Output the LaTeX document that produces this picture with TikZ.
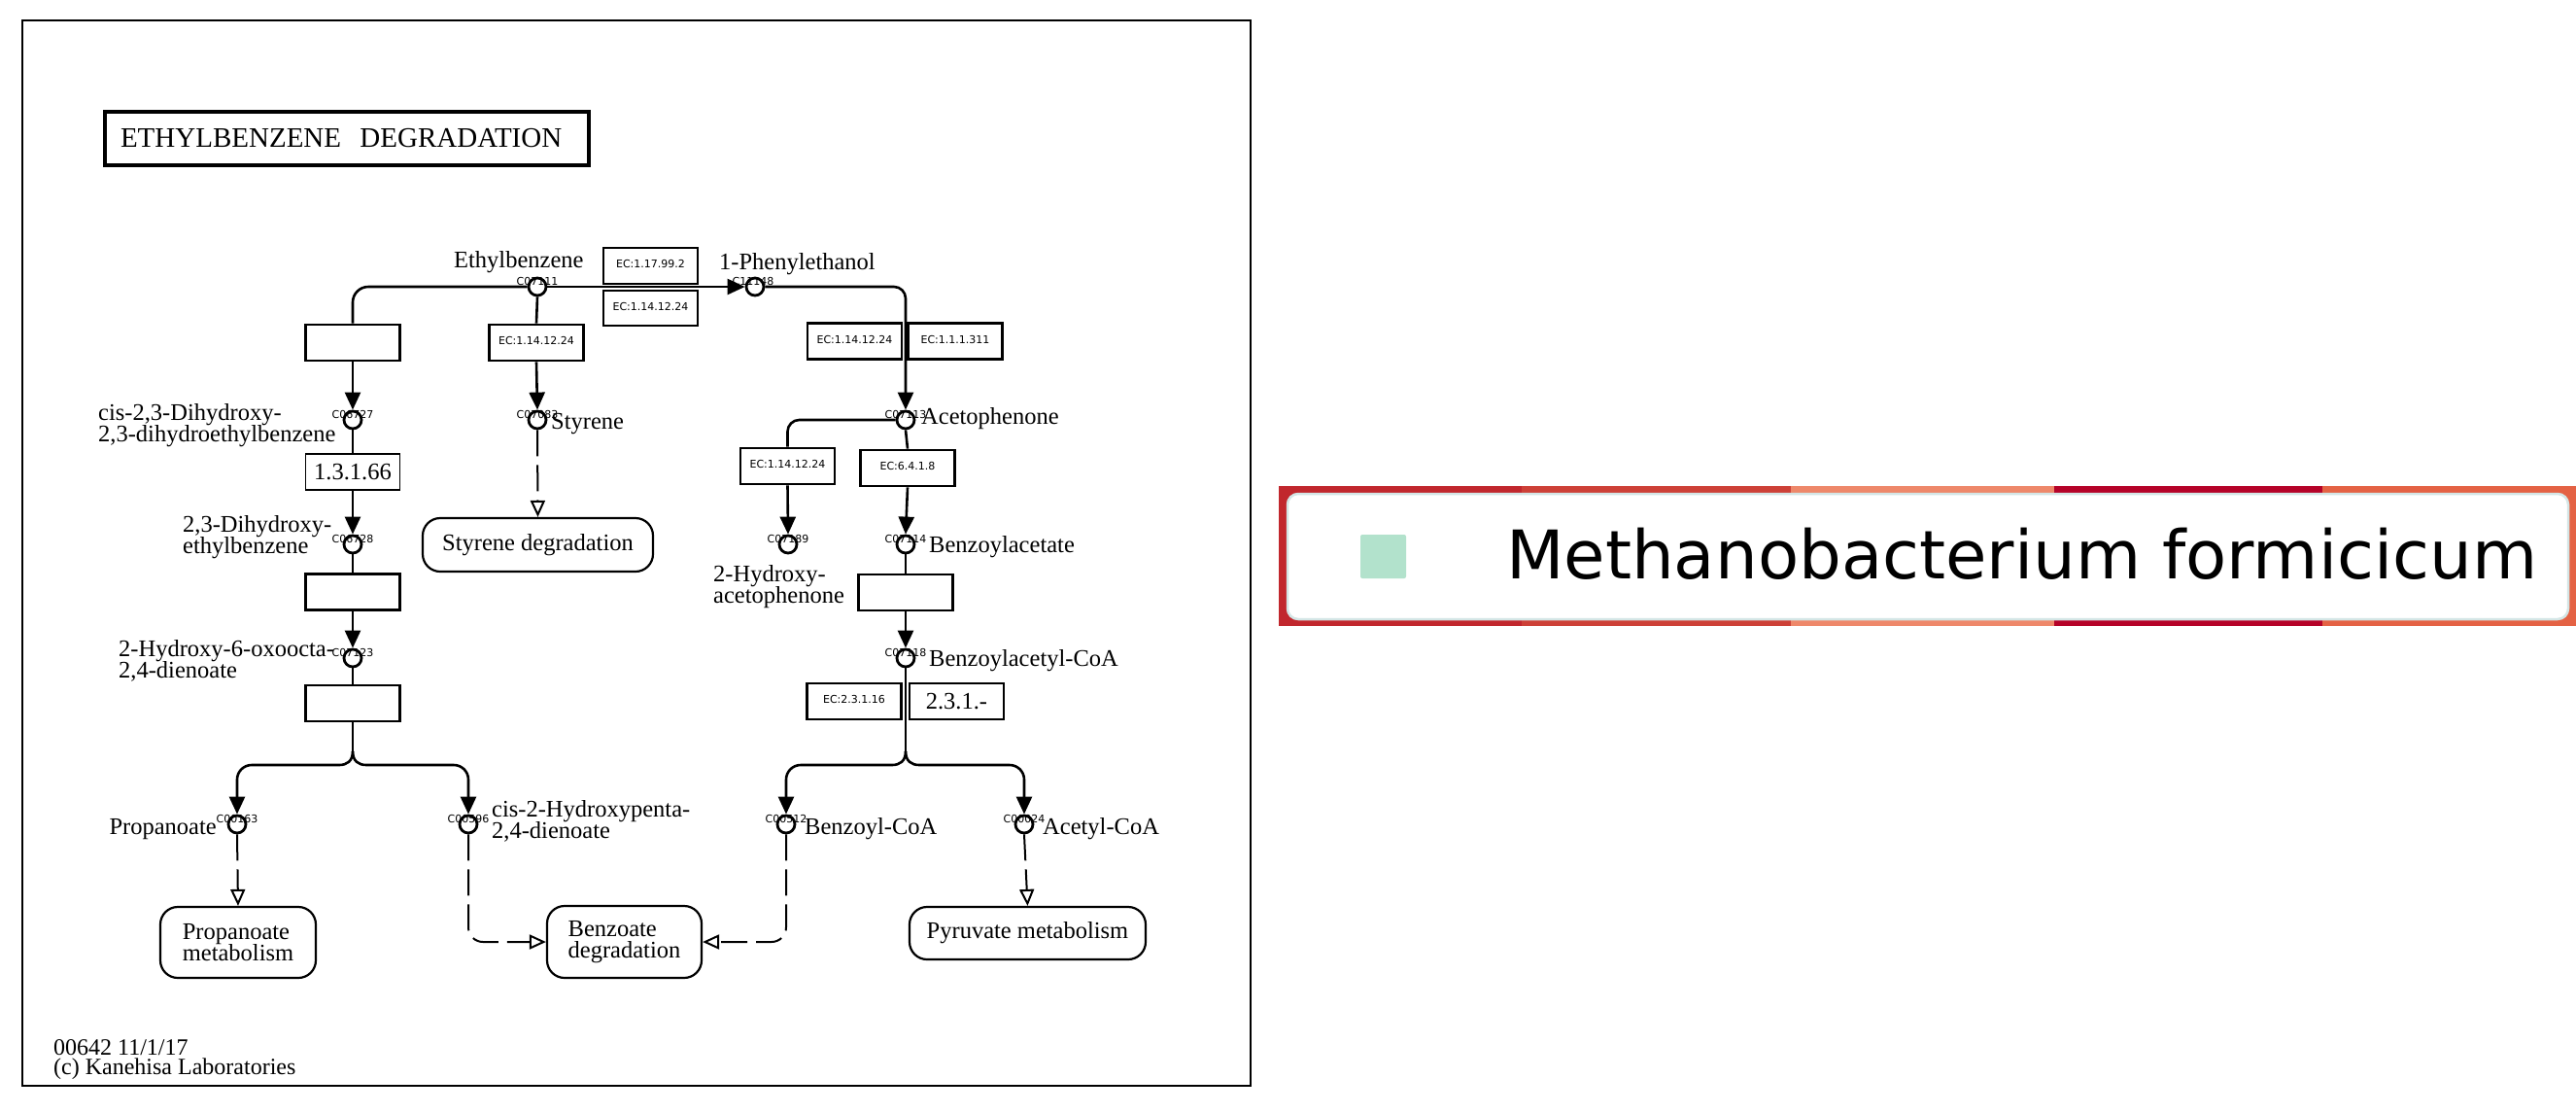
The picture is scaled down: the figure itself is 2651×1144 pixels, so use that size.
\documentclass[tikz,border=0pt]{standalone}
\usepackage{fontspec}
\setmainfont{Liberation Serif}
\newfontfamily\dejavu{DejaVu Sans}
\usetikzlibrary{arrows.meta}
\newcommand\cpdfont{\fontsize{24.5pt}{22.5pt}\selectfont}
\newcommand\ecfont{\dejavu\fontsize{11pt}{13pt}\selectfont}
\newcommand\cnofont{\dejavu\fontsize{11pt}{13pt}\selectfont}
\definecolor{segA}{RGB}{193,39,45}
\definecolor{segB}{RGB}{205,64,55}
\definecolor{segC}{RGB}{238,136,106}
\definecolor{segD}{RGB}{181,2,40}
\definecolor{segE}{RGB}{228,98,68}
\definecolor{legedge}{RGB}{212,230,230}
\definecolor{legteal}{RGB}{178,226,204}
\begin{document}
\begin{tikzpicture}[x=1pt,y=-1pt,
  rxn/.style={line width=2.6pt},
  arr/.style={-{Triangle[length=18pt,width=16pt]}},
  darr/.style={line width=2pt, dash pattern=on 27pt off 9pt, -{Triangle[open,length=17pt,width=15pt]}},
  cpd/.style={circle,draw,line width=2.8pt,minimum size=18pt,inner sep=0pt},
  cno/.style={font=\cnofont,inner sep=0pt},
  ecbox/.style={draw,line width=2.8pt,minimum width=97pt,minimum height=37pt,inner sep=0pt,font=\ecfont},
  thinbox/.style={draw,line width=1.6pt,minimum width=97pt,minimum height=37pt,inner sep=0pt,font=\cpdfont},
  mapbox/.style={draw,line width=2.2pt,rounded corners=18pt,inner sep=0pt,align=left,font=\cpdfont},
  lbl/.style={font=\cpdfont,inner sep=0pt,align=left}]
\useasboundingbox (0,0) rectangle (2651,1144);
\fill[white] (0,0) rectangle (2651,1144);
% frame
\draw[line width=2.5pt] (23,21) rectangle (1287,1117);
% title
\node[draw,line width=4pt,anchor=north west,text width=466pt,inner xsep=16pt,inner ysep=0pt,minimum height=55pt,align=left,font=\fontsize{29pt}{32pt}\selectfont] (title) at (106,113) {ETHYLBENZENE\ \ DEGRADATION};

% compound number labels
\node[cno] (n07111) at (553,289) {C07111};
\node[cno] (n11148) at (775,289) {C11148};
\node[cno] (n06727) at (363,426) {C06727};
\node[cno] (n07083) at (553,426) {C07083};
\node[cno] (n07113) at (932,426) {C07113};
\node[cno] (n06728) at (363,554) {C06728};
\node[cno] (n07189) at (811,554) {C07189};
\node[cno] (n07114) at (932,554) {C07114};
\node[cno] (n07123) at (363,671) {C07123};
\node[cno] (n07118) at (932,671) {C07118};
\node[cno] (n00163) at (244,842) {C00163};
\node[cno] (n00596) at (482,842) {C00596};
\node[cno] (n00512) at (809,842) {C00512};
\node[cno] (n00024) at (1054,842) {C00024};

% compounds
\node[cpd] (c07111) at (553,295) {};
\node[cpd] (c11148) at (777,295) {};
\node[cpd] (c06727) at (363,432) {};
\node[cpd] (c07083) at (553,432) {};
\node[cpd] (c07113) at (932,432) {};
\node[cpd] (c06728) at (363,560) {};
\node[cpd] (c07189) at (811,560) {};
\node[cpd] (c07114) at (932,560) {};
\node[cpd] (c07123) at (363,677) {};
\node[cpd] (c07118) at (932,677) {};
\node[cpd] (c00163) at (244,848) {};
\node[cpd] (c00596) at (482,848) {};
\node[cpd] (c00512) at (809,848) {};
\node[cpd] (c00024) at (1054,848) {};

% enzyme boxes
\node[ecbox] (eb1) at (363,352.5) {};
\node[ecbox] (ecsty) at (552,352.5) {\raisebox{4pt}{EC:1.14.12.24}};
\node[ecbox] (ec179) at (669.5,273.5) {\raisebox{4pt}{EC:1.17.99.2}};
\node[ecbox,minimum height=36pt] (ec114t) at (669.5,317) {\raisebox{4pt}{EC:1.14.12.24}};
\node[ecbox] (ec114r) at (879.5,351) {\raisebox{4pt}{EC:1.14.12.24}};
\node[ecbox] (ec1311) at (983,351) {\raisebox{4pt}{EC:1.1.1.311}};
\node[thinbox] (b1366) at (363,485.5) {1.3.1.66};
\node[ecbox] (eb2) at (363,609) {};
\node[ecbox] (eb3) at (363,723.5) {};
\node[ecbox] (ec114h) at (810.5,479.5) {\raisebox{4pt}{EC:1.14.12.24}};
\node[ecbox] (ec6418) at (934,481.5) {\raisebox{4pt}{EC:6.4.1.8}};
\node[ecbox] (eb4) at (932,609.5) {};
\node[ecbox] (ec23116) at (879,721.5) {\raisebox{4pt}{EC:2.3.1.16}};
\node[thinbox] (b231) at (984.5,721.5) {2.3.1.-};

% map boxes
\node[mapbox,minimum width=237pt,minimum height=55pt] (msty) at (553.5,560.5) {Styrene degradation};
\node[mapbox,minimum width=160pt,minimum height=73pt] (mprop) at (245,969.5) {Propanoate\\metabolism};
\node[mapbox,minimum width=159pt,minimum height=74pt] (mbenz) at (642.5,969) {Benzoate\\degradation};
\node[mapbox,minimum width=243pt,minimum height=54pt] (mpyr) at (1057.5,960) {Pyruvate metabolism};

% compound names (base anchor = last line)
\node[lbl,anchor=base west] (lEth) at (467,275) {Ethylbenzene};
\node[lbl,anchor=base west] (lPhe) at (740,277) {1-Phenylethanol};
\node[lbl,anchor=base west] (lCis) at (101,454.5) {cis-2,3-Dihydroxy-\\2,3-dihydroethylbenzene};
\node[lbl,anchor=base west] (lSty) at (567,441) {Styrene};
\node[lbl,anchor=base west] (lAce) at (948,436) {Acetophenone};
\node[lbl,anchor=base west] (lDih) at (188,569.5) {2,3-Dihydroxy-\\ethylbenzene};
\node[lbl,anchor=base west] (lHac) at (734,620.5) {2-Hydroxy-\\acetophenone};
\node[lbl,anchor=base west] (lBza) at (956,568) {Benzoylacetate};
\node[lbl,anchor=base west] (lOxo) at (122,697.5) {2-Hydroxy-6-oxoocta-\\2,4-dienoate};
\node[lbl,anchor=base west] (lBzc) at (956,685) {Benzoylacetyl-CoA};
\node[lbl,anchor=base east] (lPro) at (223,858) {Propanoate};
\node[lbl,anchor=base west] (lPen) at (506,862.5) {cis-2-Hydroxypenta-\\2,4-dienoate};
\node[lbl,anchor=base west] (lBcoa) at (828,858) {Benzoyl-CoA};
\node[lbl,anchor=base west] (lAcoa) at (1073,858) {Acetyl-CoA};

% footer
\node[inner sep=0pt,anchor=base west,align=left,font=\fontsize{24pt}{20pt}\selectfont] (foot) at (55,1105) {00642 11/1/17\\(c) Kanehisa Laboratories};

% junctions
\coordinate (j1) at (363,773);
\coordinate (j1l) at (349,787);
\coordinate (j1r) at (377,787);
\coordinate (j2) at (932,773);
\coordinate (j2l) at (918,787);
\coordinate (j2r) at (946,787);

% reactions
\draw[rxn,rounded corners=16pt] (c07111.west) -| (eb1.north);
\draw[rxn,arr] (eb1.south) -- (c06727.north);
\draw[rxn,arr] (c07111.east) -- (c11148.west);
\draw[rxn,arr,rounded corners=12pt] (c11148.east) -| (c07113.north);
\draw[rxn] (c07111.south) -- (ecsty.north);
\draw[rxn,arr] (ecsty.south) -- (c07083.north);
\draw[darr] (c07083.south) -- (msty.north);
\draw[rxn] (c06727.south) -- (b1366.north);
\draw[rxn,arr] (b1366.south) -- (c06728.north);
\draw[rxn] (c06728.south) -- (eb2.north);
\draw[rxn,arr] (eb2.south) -- (c07123.north);
\draw[rxn] (c07123.south) -- (eb3.north);
\draw[rxn] (eb3.south) -- (j1);
\draw[rxn,arr] (j1) .. controls +(0,10) and +(8,0) .. (j1l) [rounded corners=15pt] -| (c00163.north);
\draw[rxn,arr] (j1) .. controls +(0,10) and +(-8,0) .. (j1r) [rounded corners=15pt] -| (c00596.north);
\draw[rxn,rounded corners=12pt] (c07113.west) -| (ec114h.north);
\draw[rxn,arr] (ec114h.south) -- (c07189.north);
\draw[rxn] (c07113.south) -- (ec6418.north);
\draw[rxn,arr] (ec6418.south) -- (c07114.north);
\draw[rxn] (c07114.south) -- (eb4.north);
\draw[rxn,arr] (eb4.south) -- (c07118.north);
\draw[rxn] (c07118.south) -- (j2);
\draw[rxn,arr] (j2) .. controls +(0,10) and +(8,0) .. (j2l) [rounded corners=15pt] -| (c00512.north);
\draw[rxn,arr] (j2) .. controls +(0,10) and +(-8,0) .. (j2r) [rounded corners=15pt] -| (c00024.north);
\draw[darr] (c00163.south) -- (mprop.north);
\draw[darr] (c00024.south) -- (mpyr.north);
\draw[darr,rounded corners=15pt] (c00596.south) |- (mbenz.west);
\draw[darr,rounded corners=15pt] (c00512.south) |- (mbenz.east);

% legend
\fill[segA] (1316,500) rectangle (1566,644);
\fill[segB] (1566,500) rectangle (1843,644);
\fill[segC] (1843,500) rectangle (2114,644);
\fill[segD] (2114,500) rectangle (2390,644);
\fill[segE] (2390,500) rectangle (2651,644);
\node[draw=legedge,fill=white,line width=2.5pt,rounded corners=11pt,minimum width=1318pt,minimum height=129pt,inner sep=0pt] (legbox) at (1984,572.5) {};
\node[fill=legteal,rounded corners=2pt,minimum width=47pt,minimum height=45pt,inner sep=0pt] (legsq) at (1423.5,572.5) {};
\node[inner sep=0pt,anchor=base west,font=\dejavu\fontsize{69pt}{80pt}\selectfont] (legtxt) at (1550,595) {Methanobacterium formicicum};
\end{tikzpicture}
\end{document}
